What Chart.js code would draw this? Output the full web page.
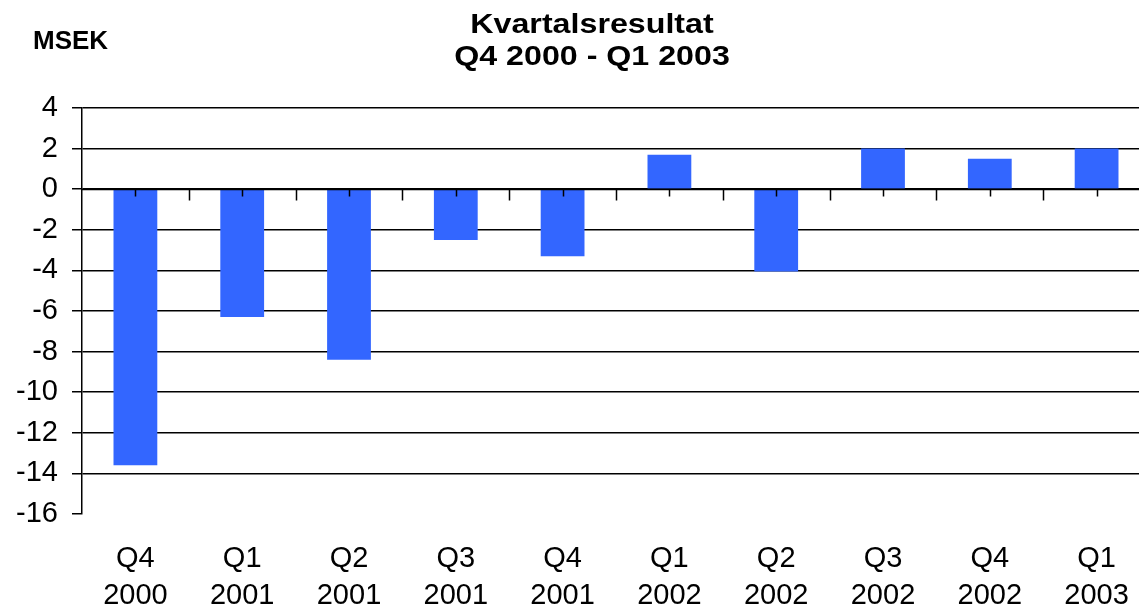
<!DOCTYPE html>
<html>
<head>
<meta charset="utf-8">
<script src="https://cdn.jsdelivr.net/npm/chart.js@4/dist/chart.umd.min.js"></script>
<style>
  html, body { margin: 0; padding: 0; background: #fff; overflow: hidden; }
  #wrap { width: 1150px; height: 605px; position: relative; }
</style>
</head>
<body>
<div id="wrap"><canvas id="c" width="1150" height="605"></canvas></div>
<script>
const quarters = ['Q4', 'Q1', 'Q2', 'Q3', 'Q4', 'Q1', 'Q2', 'Q3', 'Q4', 'Q1'];
const years = ['2000', '2001', '2001', '2001', '2001', '2002', '2002', '2002', '2002', '2003'];
const results = [-13.6, -6.3, -8.4, -2.5, -3.3, 1.7, -4.05, 2.0, 1.5, 2.0];
const titleLines = ['Kvartalsresultat', 'Q4 2000 - Q1 2003'];
const unitLabel = 'MSEK';

const FONT = "'Liberation Sans', Arial, sans-serif";

const decor = {
  id: 'decor',
  afterDatasetsDraw(chart) {
    const { ctx, chartArea, scales } = chart;
    const x = scales.x, y = scales.y;
    const y0 = Math.round(y.getPixelForValue(0)) + 0.5;
    ctx.save();
    ctx.strokeStyle = '#000';
    ctx.lineWidth = 1.5;
    ctx.beginPath();
    ctx.moveTo(chartArea.left, y0);
    ctx.lineTo(chartArea.right, y0);
    for (let i = 0; i < quarters.length; i++) {
      const xc = Math.round(x.getPixelForValue(i)) + 0.5;
      ctx.moveTo(xc, y0);
      ctx.lineTo(xc, y0 + 7);
      const xb = Math.round(x.getPixelForValue(i + 0.5)) + 0.5;
      ctx.moveTo(xb, y0);
      ctx.lineTo(xb, y0 + 11);
    }
    ctx.stroke();
    ctx.restore();
  },
  afterDraw(chart) {
    const { ctx } = chart;
    ctx.save();
    ctx.fillStyle = '#000';
    ctx.textBaseline = 'alphabetic';
    ctx.font = 'bold 28px ' + FONT;
    ctx.textAlign = 'center';
    const baselines = [33, 65];
    titleLines.forEach((t, i) => {
      ctx.save();
      ctx.translate(592, baselines[i]);
      ctx.scale(1.15, 1);
      ctx.fillText(t, 0, 0);
      ctx.restore();
    });
    ctx.textAlign = 'left';
    ctx.font = 'bold 26px ' + FONT;
    ctx.fillText(unitLabel, 33, 49);
    ctx.restore();
  }
};

new Chart(document.getElementById('c'), {
  type: 'bar',
  data: {
    labels: quarters.map((q, i) => [q, years[i]]),
    datasets: [{
      data: results,
      backgroundColor: '#3366FF',
      borderWidth: 0,
      barPercentage: 0.41,
      categoryPercentage: 1.0
    }]
  },
  options: {
    responsive: false,
    animation: false,
    devicePixelRatio: 1,
    layout: { padding: { top: 108, right: 0, left: 0, bottom: 0 } },
    plugins: { legend: { display: false }, title: { display: false }, tooltip: { enabled: false } },
    scales: {
      x: {
        type: 'category',
        position: 'bottom',
        offset: true,
        grid: { display: false, drawTicks: true, tickLength: 26 },
        border: { display: false },
        ticks: {
          color: '#000',
          font: { family: FONT, size: 29, lineHeight: 1.276 },
          padding: 0,
          maxRotation: 0,
          autoSkip: false
        },
        afterFit: s => { s.height = 91; }
      },
      y: {
        min: -16,
        max: 4,
        ticks: {
          stepSize: 2,
          color: '#000',
          font: { family: FONT, size: 29 },
          padding: 14
        },
        grid: {
          color: c => (c.tick && c.tick.value === -16) ? 'rgba(0,0,0,0)' : '#000',
          tickColor: '#000',
          lineWidth: 1.5,
          tickLength: 10,
          drawTicks: true
        },
        border: { display: true, color: '#000', width: 1.5 },
        afterFit: s => { s.width = 82; }
      }
    }
  },
  plugins: [decor]
});
</script>
</body>
</html>
